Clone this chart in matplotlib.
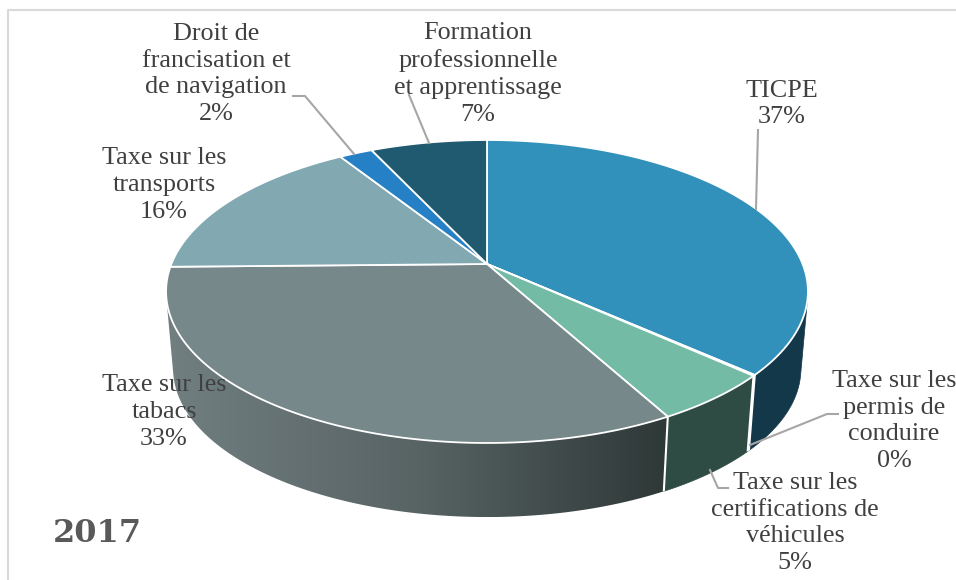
"""3D-looking pie of 2017 taxes, projected by hand (matplotlib has no real 3D pie)."""
import numpy as np
import matplotlib
matplotlib.use("Agg")
import matplotlib.pyplot as plt
from matplotlib.colors import LinearSegmentedColormap
from matplotlib.patches import Polygon

# clockwise from 12 o'clock
labels = ["TICPE", "Taxe sur les\npermis de\nconduire",
          "Taxe sur les\ncertifications de\nvéhicules", "Taxe sur les\ntabacs",
          "Taxe sur les\ntransports", "Droit de\nfrancisation et\nde navigation",
          "Formation\nprofessionnelle\net apprentissage"]
values = [36.6, 0.1, 5.3, 32.7, 16.3, 2.0, 7.0]
pct_labels = ["37%", "0%", "5%", "33%", "16%", "2%", "7%"]
top_colors = ["#3291ba", "#3291ba", "#74bba5", "#77888a", "#82a8b2", "#2580c5", "#1f5a70"]
wall_colors = ["#12384a", "#12384a", "#2f4c44", None, "#5d7880", "#1a5a8a", "#143f4f"]

# label block centres and leader lines, in pixels
label_pos = [(782, 104), (894, 421), (795, 523), (164, 412), (164, 185), (216, 74), (478, 74)]
leaders = [[(758, 130), (756, 209)],
           [(750, 445), (827, 414), (838, 414)],
           [(710, 470), (718, 488), (728, 488)],
           None, None,
           [(293, 96), (305, 96), (354, 154)],
           [(409, 95), (429, 143)]]

CX, CY = 487, 264
RX, RY = 315.6, 146.5
PERSP = 0.1815
DEPTH, SHRINK = 78, 0.978
FONT = "Liberation Serif"
TXT = "#404040"


def project(t, bottom=False):
    """Angle (radians, clockwise from top) -> pixel coords on the top or bottom disc."""
    u, v = np.sin(t), np.cos(t)
    w = 1 + PERSP * v
    x, y = RX * u / w, -RY * v / w
    if bottom:
        return CX + SHRINK * x, CY + DEPTH + SHRINK * y
    return CX + x, CY + y


def is_front(t):
    # the wall is visible where the rim tangent and the vertical edge turn the same way
    x0, y0 = project(t)
    x1, y1 = project(t + 1e-3)
    xb, yb = project(t, bottom=True)
    return (x1 - x0) * (yb - y0) - (y1 - y0) * (xb - x0) < 0


fig = plt.figure(figsize=(9.56, 5.8), dpi=100)
ax = fig.add_axes([0, 0, 1, 1])
ax.axis("off")

edges = np.cumsum([0] + values) / sum(values) * 2 * np.pi
grad = LinearSegmentedColormap.from_list("wall", ["#717f81", "#586364", "#2e3837"])

# walls first, the top face hides what is behind
for i in range(len(values)):
    t = np.linspace(edges[i], edges[i + 1], 120)
    t = t[is_front(t)]
    if len(t) < 2:
        continue
    xt, yt = project(t)
    xb, yb = project(t, bottom=True)
    pts = np.r_[np.c_[xt, yt], np.c_[xb, yb][::-1]]
    if wall_colors[i] is None:
        poly = Polygon(pts, facecolor="none", edgecolor="none")
        ax.add_patch(poly)
        im = ax.imshow(np.linspace(0, 1, 256)[None, :], cmap=grad, aspect="auto",
                       extent=(pts[:, 0].min(), pts[:, 0].max(), pts[:, 1].max(), pts[:, 1].min()))
        im.set_clip_path(poly)
    else:
        ax.add_patch(Polygon(pts, facecolor=wall_colors[i], edgecolor=wall_colors[i], lw=0.5))

for e in edges:
    if is_front(e):
        x0, y0 = project(e)
        x1, y1 = project(e, bottom=True)
        ax.plot([x0, x1], [y0, y1], color="white", lw=1.5, solid_capstyle="butt")

# top face
for i in range(len(values)):
    t = np.linspace(edges[i], edges[i + 1], 120)
    x, y = project(t)
    pts = np.r_[[[CX, CY]], np.c_[x, y]]
    ax.add_patch(Polygon(pts, facecolor=top_colors[i], edgecolor="white", lw=1.3, joinstyle="round"))

for line in leaders:
    if line:
        xs, ys = zip(*line)
        ax.plot(xs, ys, color="#a6a6a6", lw=1.5)

for lab, pct, (x, y) in zip(labels, pct_labels, label_pos):
    ax.text(x, y, lab + "\n" + pct, ha="center", va="center", ma="center",
            fontsize=18.8, family=FONT, color=TXT, linespacing=1.27)

ax.text(97, 534, "2017", ha="center", va="center", fontsize=23, family="DejaVu Serif",
        fontweight="bold", color="#595959")

# chart frame, only top and left are inside the crop
ax.plot([8, 8, 956], [580, 9.5, 9.5], color="#d9d9d9", lw=1.5)

ax.set_xlim(0, 956)
ax.set_ylim(580, 0)
fig.savefig("out.png", dpi=100)
